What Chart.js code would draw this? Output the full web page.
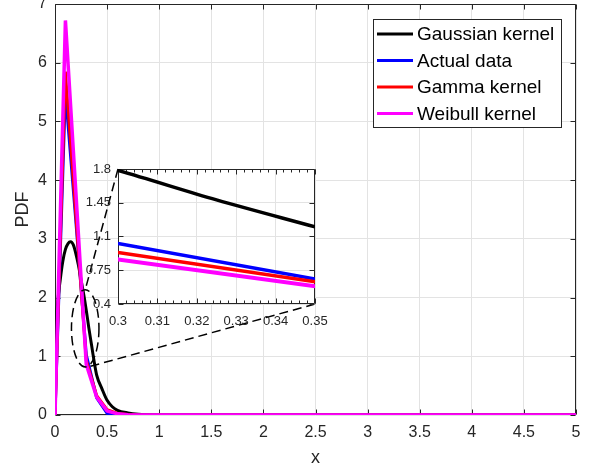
<!DOCTYPE html>
<html>
<head>
<meta charset="utf-8">
<script src="https://cdn.jsdelivr.net/npm/chart.js@4.4.0/dist/chart.umd.min.js"></script>
<style>
    html, body { margin: 0; padding: 0; background: #fff; }
    #wrap { position: relative; width: 592px; height: 470px; }
    #main { position: absolute; left: 0; top: 0; }
    #inset { position: absolute; left: 70px; top: 150px; }
</style>
</head>
<body>
<div id="wrap">
    <canvas id="main" width="592" height="470"></canvas>
    <canvas id="inset" width="270" height="190"></canvas>
</div>
<script>
// Series names / colours
const seriesNames = ['Gaussian kernel', 'Actual data', 'Gamma kernel', 'Weibull kernel'];
const seriesColors = ['#000000', '#0000ff', '#ff0000', '#ff00ff'];

// Gaussian kernel estimate (smooth curve)
const gaussX = [0, 0.025, 0.05, 0.075, 0.1, 0.125, 0.15, 0.175, 0.2, 0.225, 0.25, 0.275, 0.3, 0.325, 0.35, 0.375, 0.4, 0.45, 0.5, 0.55, 0.6, 0.7, 0.8, 0.9, 1, 1.5, 2, 2.5, 3, 3.5, 4, 4.5, 5];
const gaussY = [1.22, 1.9, 2.3, 2.62, 2.82, 2.92, 2.95, 2.9, 2.75, 2.55, 2.3, 2.06, 1.785, 1.48, 1.2, 0.92, 0.68, 0.45, 0.25, 0.14, 0.08, 0.035, 0.012, 0.004, 0, 0, 0, 0, 0, 0, 0, 0, 0];

// Histogram-like series (0.1 spacing near the peak)
const kernX = [0, 0.1, 0.2, 0.3, 0.4, 0.5, 0.6, 0.7, 0.8, 0.9, 1, 1.5, 2, 2.5, 3, 3.5, 4, 4.5, 5];
const actualY = [0, 5.5, 3.3, 1.028, 0.29, 0.03, 0.008, 0.002, 0, 0, 0, 0, 0, 0, 0, 0, 0, 0, 0];
const gammaY = [0, 5.85, 3.4, 0.934, 0.328, 0.09, 0.025, 0.007, 0.002, 0, 0, 0, 0, 0, 0, 0, 0, 0, 0];
const weibullY = [0, 6.72, 3.8, 0.862, 0.304, 0.07, 0.02, 0.005, 0.001, 0, 0, 0, 0, 0, 0, 0, 0, 0, 0];

// Tick values
const mainXTicks = [0, 0.5, 1, 1.5, 2, 2.5, 3, 3.5, 4, 4.5, 5];
const mainYTicks = [0, 1, 2, 3, 4, 5, 6, 7];
const insetXTicks = [0.3, 0.31, 0.32, 0.33, 0.34, 0.35];
const insetYTicks = [0.4, 0.75, 1.1, 1.45, 1.8];

// Zoomed region marker (data units)
const zoomEllipse = { cx: 0.29, cy: 1.476, rx: 0.132, ry: 0.658 };

const axisColor = '#262626';
const gridColor = '#e3e3e3';
Chart.defaults.font.family = '"Liberation Sans", Arial, Helvetica, sans-serif';

function toPoints(xs, ys) {
    return xs.map((x, i) => ({ x: x, y: ys[i] }));
}

function makeDatasets(width, clip) {
    const ys = [gaussY, actualY, gammaY, weibullY];
    return seriesNames.map((name, i) => ({
        label: name,
        data: i === 0 ? toPoints(gaussX, gaussY) : toPoints(kernX, ys[i]),
        borderColor: seriesColors[i],
        backgroundColor: seriesColors[i],
        borderWidth: i === 3 ? width + 0.5 : width,
        pointRadius: 0,
        fill: false,
        tension: 0,
        cubicInterpolationMode: i === 0 ? 'monotone' : 'default',
        order: 4 - i,
        clip: clip
    }));
}

// box + inward ticks like MATLAB
const framePlugin = {
    id: 'frame',
    beforeDatasetsDraw(chart, args, opts) {
        const { ctx, chartArea: a, scales } = chart;
        const L = Math.round(a.left) + 0.5, R = Math.round(a.right) - 0.5;
        const T = Math.round(a.top) + 0.5, B = Math.round(a.bottom) - 0.5;
        ctx.save();
        ctx.strokeStyle = axisColor;
        ctx.lineWidth = 1;
        ctx.beginPath();
        ctx.rect(L, T, R - L, B - T);
        opts.xTicks.forEach(v => {
            const px = Math.round(scales.x.getPixelForValue(v)) + 0.5;
            ctx.moveTo(px, B); ctx.lineTo(px, B - opts.len);
            ctx.moveTo(px, T); ctx.lineTo(px, T + opts.len);
        });
        opts.yTicks.forEach(v => {
            const py = Math.round(scales.y.getPixelForValue(v)) + 0.5;
            ctx.moveTo(L, py); ctx.lineTo(L + opts.len, py);
            ctx.moveTo(R, py); ctx.lineTo(R - opts.len, py);
        });
        if (opts.xMinor) {
            const sx = scales.x;
            for (let v = sx.min; v <= sx.max + 1e-9; v += opts.xMinor) {
                const px = Math.round(sx.getPixelForValue(v)) + 0.5;
                ctx.moveTo(px, B); ctx.lineTo(px, B - opts.minorLen);
                ctx.moveTo(px, T); ctx.lineTo(px, T + opts.minorLen);
            }
        }
        ctx.stroke();
        ctx.restore();
    }
};

const whiteAreaPlugin = {
    id: 'whiteArea',
    beforeDraw(chart) {
        const { ctx, chartArea: a } = chart;
        ctx.save();
        ctx.fillStyle = '#ffffff';
        ctx.fillRect(a.left, a.top, a.width, a.height);
        ctx.restore();
    }
};

const legendPlugin = {
    id: 'boxLegend',
    afterDraw(chart) {
        const ctx = chart.ctx;
        ctx.save();
        ctx.fillStyle = '#ffffff';
        ctx.fillRect(373, 19, 188, 108);
        ctx.strokeStyle = axisColor;
        ctx.lineWidth = 1;
        ctx.strokeRect(373.5, 19.5, 188, 108);
        ctx.font = '19px "Liberation Sans", Arial, sans-serif';
        ctx.textBaseline = 'middle';
        ctx.textAlign = 'left';
        seriesNames.forEach((name, i) => {
            const y = 34 + i * 26.5;
            ctx.strokeStyle = seriesColors[i];
            ctx.lineWidth = 3;
            ctx.beginPath();
            ctx.moveTo(377, y); ctx.lineTo(413, y);
            ctx.stroke();
            ctx.fillStyle = '#000000';
            ctx.fillText(name, 417, y + 1);
        });
        ctx.restore();
    }
};

let insetChart = null;

const zoomMarkPlugin = {
    id: 'zoomMark',
    afterDatasetsDraw(chart) {
        if (!insetChart) return;
        const { ctx, scales } = chart;
        const cx = scales.x.getPixelForValue(zoomEllipse.cx);
        const cy = scales.y.getPixelForValue(zoomEllipse.cy);
        const rx = scales.x.getPixelForValue(zoomEllipse.cx + zoomEllipse.rx) - cx;
        const ry = cy - scales.y.getPixelForValue(zoomEllipse.cy + zoomEllipse.ry);
        const el = document.getElementById('inset');
        const ia = insetChart.chartArea;
        ctx.save();
        ctx.strokeStyle = '#000000';
        ctx.lineWidth = 1.5;
        ctx.setLineDash([9, 5]);
        ctx.beginPath();
        ctx.ellipse(cx, cy, rx, ry, 0, 0, Math.PI * 2);
        ctx.stroke();
        ctx.beginPath();
        ctx.moveTo(el.offsetLeft + ia.left, el.offsetTop + ia.top);
        ctx.lineTo(cx, cy - ry);
        ctx.moveTo(el.offsetLeft + ia.right, el.offsetTop + ia.bottom);
        ctx.lineTo(cx + 3, cy + ry);
        ctx.stroke();
        ctx.restore();
    }
};

function fixedAxis(ticks, size) {
    return {
        type: 'linear',
        afterBuildTicks: ax => { ax.ticks = ticks.map(v => ({ value: v })); },
        afterFit: ax => {
            if (ax.isHorizontal()) ax.height = size; else ax.width = size;
            ax.paddingTop = 0; ax.paddingBottom = 0; ax.paddingLeft = 0; ax.paddingRight = 0;
        },
        grid: { color: gridColor, lineWidth: 1, drawTicks: false },
        border: { display: false }
    };
}

// Inset (zoom) chart
const insetX = fixedAxis(insetXTicks, 36);
insetX.min = 0.3; insetX.max = 0.35;
insetX.ticks = { color: axisColor, font: { size: 13 }, padding: 10, maxRotation: 0, autoSkip: false, callback: v => String(v) };
const insetY = fixedAxis(insetYTicks, 48);
insetY.min = 0.4; insetY.max = 1.8;
insetY.ticks = { color: axisColor, font: { size: 13 }, padding: 7, autoSkip: false, callback: v => String(v) };

insetChart = new Chart(document.getElementById('inset'), {
    type: 'line',
    data: { datasets: makeDatasets(3.5, 0) },
    options: {
        responsive: false,
        animation: false,
        layout: { padding: { top: 19, right: 25, left: 0, bottom: 0 } },
        plugins: {
            legend: { display: false },
            tooltip: { enabled: false },
            frame: { xTicks: insetXTicks, yTicks: insetYTicks, len: 5, xMinor: 0.002, minorLen: 3 }
        },
        scales: { x: insetX, y: insetY }
    },
    plugins: [whiteAreaPlugin, framePlugin]
});

// Main chart
const mainX = fixedAxis(mainXTicks, 55);
mainX.min = 0; mainX.max = 5;
mainX.ticks = { color: axisColor, font: { size: 16 }, padding: 8, maxRotation: 0, autoSkip: false, callback: v => String(v) };
mainX.title = { display: true, text: 'x', color: axisColor, font: { size: 18 }, padding: { top: 0, bottom: 1 } };
const mainY = fixedAxis(mainYTicks, 55);
mainY.min = 0; mainY.max = 7;
mainY.ticks = { color: axisColor, font: { size: 16 }, padding: 8, autoSkip: false, callback: v => String(v) };
mainY.title = { display: true, text: 'PDF', color: axisColor, font: { size: 18 }, padding: { top: 12, bottom: 0 } };

const mainChart = new Chart(document.getElementById('main'), {
    type: 'line',
    data: { datasets: makeDatasets(3, undefined) },
    options: {
        responsive: false,
        animation: false,
        layout: { padding: { top: 4, right: 16, left: 0, bottom: 0 } },
        plugins: {
            legend: { display: false },
            tooltip: { enabled: false },
            frame: { xTicks: mainXTicks, yTicks: mainYTicks, len: 5 }
        },
        scales: { x: mainX, y: mainY }
    },
    plugins: [framePlugin, zoomMarkPlugin, legendPlugin]
});
</script>
</body>
</html>
